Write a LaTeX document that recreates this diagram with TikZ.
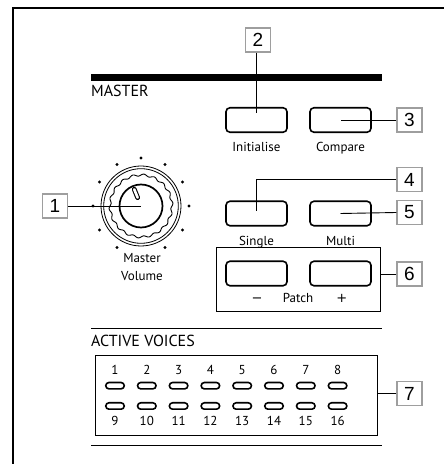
\documentclass[tikz,border=0pt]{standalone}
\usepackage{fontspec}
\setmainfont{PT Sans}
\newfontfamily\calloutfont{Liberation Sans}
\newfontfamily\signfont{DejaVu Sans}
\usetikzlibrary{positioning}

\begin{document}
\begin{tikzpicture}[x=1pt, y=1pt,
    callout/.style={draw=black!38, line width=1.3pt, fill=white, minimum width=25pt, minimum height=24pt, inner sep=0pt, font=\calloutfont\fontsize{19}{19}\selectfont},
    button/.style={draw, line width=1.6pt, rounded corners=4pt, minimum width=61pt, minimum height=24.5pt, inner sep=0pt},
    led/.style={draw, line width=1.6pt, rounded corners=3.2pt, minimum width=18.5pt, minimum height=6.4pt, inner sep=0pt},
    caption/.style={font=\fontsize{13}{18}\selectfont, inner sep=0pt},
    lead/.style={line width=0.9pt}]
  \useasboundingbox (0,0) rectangle (444,464);

  % Panel edge
  \draw[line width=1.1pt] (13,0) -- (13,456) -- (444,456);

  % MASTER section header
  \fill (91,383) rectangle (382,390);
  \node[anchor=base west, inner sep=0pt, font=\fontsize{16}{16}\selectfont] (master) at (91,367) {MASTER};

  % Master volume knob
  \coordinate (knob) at (141,258);
  \begin{scope}[shift={(knob)}]
    \draw[line width=0.8pt] (0,0) circle (40) (0,0) circle (37.3);
    \draw[line width=0.9pt] plot[domain=0:360, samples=361, smooth] (\x:{31+1*sin(18*\x)});
    \draw[line width=1.7pt] (0,0) circle (21.5);
    \draw[line width=4.8pt, line cap=round] (112:9) -- (112:18);
    \draw[white, line width=2.6pt, line cap=round] (112:9) -- (112:18);
    \foreach \a in {-60,-30,...,240}
      \fill (\a:48) circle (1.6);
  \end{scope}
  \node[caption, anchor=base] (mastername) at (142,201.3) {Master};
  \node[caption, anchor=base] (volumename) at (142,183.3) {Volume};

  % Buttons
  \node[button] (init) at (256.5,344) {};
  \node[button] (comp) at (340.5,344) {};
  \node[caption, anchor=base] at (256.5,312.3) {Initialise};
  \node[caption, anchor=base] at (340.5,312.3) {Compare};

  \node[button] (single) at (256.5,250.5) {};
  \node[button] (multi) at (340.5,250.5) {};
  \node[caption, anchor=base] at (256.5,218) {Single};
  \node[caption, anchor=base] at (340.5,218) {Multi};

  % Patch up/down
  \node[draw, line width=1pt, minimum width=164pt, minimum height=64pt, inner sep=0pt] (patch) at (298.7,184) {};
  \node[button] (down) at (256.5,190.5) {};
  \node[button] (up) at (340.5,190.5) {};
  \node[caption, anchor=base] at (298,161) {Patch};
  \node[caption, anchor=base, font=\signfont\fontsize{13}{13}\selectfont] at (257,161) {−};
  \node[caption, anchor=base, font=\signfont\fontsize{13}{13}\selectfont] at (341.7,161) {+};

  % ACTIVE VOICES section
  \draw[line width=1.3pt] (91,135.7) -- (382,135.7);
  \node[anchor=base west, inner sep=0pt, font=\fontsize{16}{16}\selectfont] (voicelabel) at (91,117.5) {ACTIVE VOICES};
  \node[draw, line width=1pt, minimum width=282pt, minimum height=80pt, inner sep=0pt] (voices) at (236.3,68) {};
  \foreach \i in {1,...,8} {
    \pgfmathsetmacro\vx{115+(\i-1)*31.8}
    \pgfmathtruncatemacro\j{\i+8}
    \node[led] (ledA\i) at (\vx,78.3) {};
    \node[led] (ledB\i) at (\vx,58) {};
    \node[caption] at (\vx,94) {\i};
    \node[caption] at (\vx,43.3) {\j};
  }
  \draw[line width=1.3pt] (91,18.3) -- (382,18.3);

  % Callouts
  \node[callout] (c1) at (55,258) {1};
  \node[callout] (c2) at (258,424) {2};
  \node[callout] (c3) at (409.5,344) {3};
  \node[callout] (c4) at (409.5,284.5) {4};
  \node[callout] (c5) at (409.5,251.5) {5};
  \node[callout] (c6) at (409.5,190) {6};
  \node[callout] (c7) at (409.5,70.5) {7};

  \draw[lead] (c1) -- (knob);
  \draw[lead] (c2.south -| init) -- ([yshift=7pt]init.center);
  \draw[lead] (c3) -- (comp.center);
  \draw[lead] (c4.west) -| ([yshift=2pt]single.center);
  \draw[lead] (c5.west) -- (multi.center);
  \draw[lead] (c6.west) -- (c6.west -| patch.east);
  \draw[lead] (c7.west) -- (c7.west -| voices.east);
\end{tikzpicture}
\end{document}
